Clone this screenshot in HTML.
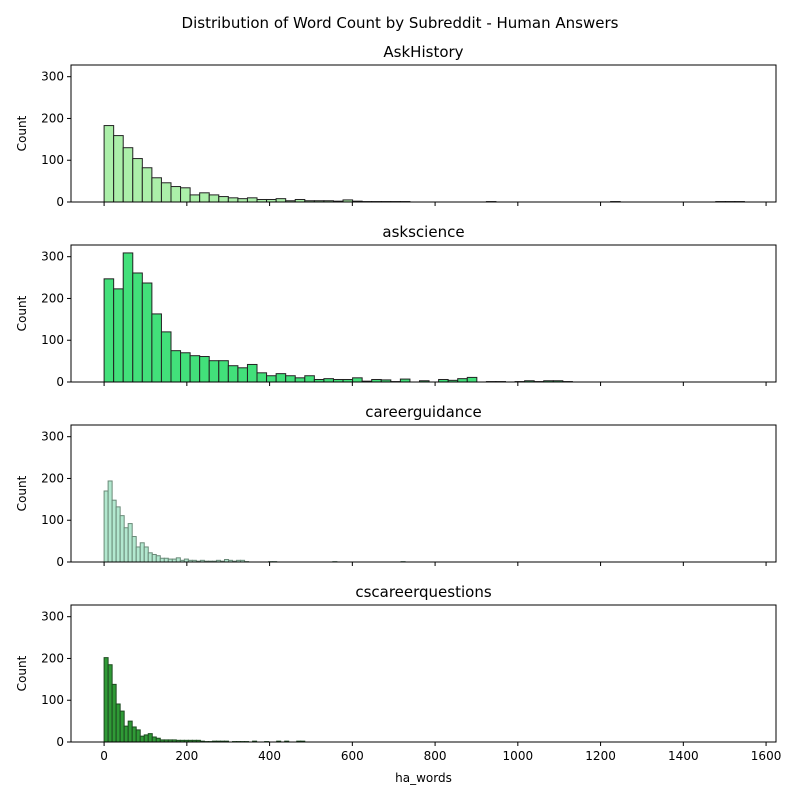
<!DOCTYPE html>
<html><head><meta charset="utf-8"><style>
body{margin:0;background:#fff}
svg text{font-family:"DejaVu Sans","Liberation Sans",sans-serif;fill:#000}
</style></head><body>
<svg id="chart" width="800" height="800" viewBox="0 0 800 800">
<rect width="800" height="800" fill="#fff"/>
<text x="400" y="28" font-size="15" text-anchor="middle">Distribution of Word Count by Subreddit - Human Answers</text>
</svg>
<script>
const subreddits = ["AskHistory","askscience","careerguidance","cscareerquestions"];
const binWidths = [23.1, 23.1, 9.7, 9.7];
const countsAskHistory = [183,159,130,104,82,58,46,37,34,17,22,17,13,10,8,10,6,6,8,3,6,3,3,3,2,5,2,1,1,1,1,1,0,0,0,0,0,0,0,0,1,0,0,0,0,0,0,0,0,0,0,0,0,1,0,0,0,0,0,0,0,0,0,0,1,1,1];
const countsAskscience = [247,223,309,261,237,163,120,75,70,63,61,51,51,39,34,42,22,15,20,15,10,15,6,8,6,6,10,2,6,5,1,7,0,3,0,6,4,8,11,0,1,1,0,1,3,1,3,3,1];
const countsCareerguidance = [170,194,148,132,111,82,92,61,36,46,36,22,18,15,9,9,7,7,10,4,7,4,4,2,4,2,2,2,4,2,6,4,2,4,4,1,0,0,0,0,0,1,1,0,0,0,0,0,0,0,0,0,0,0,0,0,0,1,0,0,0,0,0,0,0,0,0,0,0,0,0,0,0,0,1];
const countsCscareer = [202,185,138,91,74,38,50,36,29,14,17,20,12,9,5,5,5,5,4,4,4,4,4,4,2,1,1,2,2,2,2,0,1,1,1,1,0,2,0,0,1,0,0,2,0,2,0,0,2,2];
const allCounts = [countsAskHistory, countsAskscience, countsCareerguidance, countsCscareer];
const fills = ["#abefa9","#42e07a","#b2e8cf","#2f9a36"];
const edges = ["#222","#222","#6a8a78","#1d4a20"];
const yTicks = [0,100,200,300];
const xTicks = [0,200,400,600,800,1000,1200,1400,1600];
const panelTops = [65,245,425,605];

const NS="http://www.w3.org/2000/svg";
const svg=document.getElementById('chart');
const L=71,R=776,H=137,XMIN=-80,XMAX=1624,YMAX=328;
const xs=v=>L+(v-XMIN)/(XMAX-XMIN)*(R-L);
function mk(t,a,p){const e=document.createElementNS(NS,t);for(const k in a)e.setAttribute(k,a[k]);(p||svg).appendChild(e);return e;}

subreddits.forEach((name,pi)=>{
  const top=panelTops[pi],bot=top+H;
  const ys=v=>bot-v/YMAX*H;
  const g=mk('g',{});
  
  
  const t=mk('text',{x:(L+R)/2,y:top-8,'font-size':15,'text-anchor':'middle'},g);
  t.textContent=name;
  
  
  const bw=binWidths[pi];
  allCounts[pi].forEach((c,i)=>{
    if(c<=0)return;
    const x0=xs(i*bw),x1=xs((i+1)*bw);
    const r=mk('rect',{x:x0,y:ys(c),width:x1-x0,height:bot-ys(c),fill:fills[pi],stroke:edges[pi],'stroke-width':1},g);
    
    
  });
  const frame=mk('rect',{x:L,y:top,width:R-L,height:H,fill:'none',stroke:'#000','stroke-width':1},g);
  
  
  yTicks.forEach(v=>{
    mk('line',{x1:L-4,x2:L,y1:ys(v),y2:ys(v),stroke:'#000'},g);
    const tl=mk('text',{x:L-7,y:ys(v)+4,'font-size':12,'text-anchor':'end'},g);
    tl.textContent=v;
    
    
  });
  xTicks.forEach(v=>{
    mk('line',{x1:xs(v),x2:xs(v),y1:bot,y2:bot+4,stroke:'#000'},g);
    if(pi===3){
      const tl=mk('text',{x:xs(v),y:bot+18,'font-size':12,'text-anchor':'middle'},g);
      tl.textContent=v;
      
      
    }
  });
  const yl=mk('text',{x:0,y:0,'font-size':12,'text-anchor':'middle',transform:`translate(26,${top+H/2}) rotate(-90)`},g);
  yl.textContent='Count';
  
  
});
const xl=mk('text',{x:(L+R)/2,y:782,'font-size':12,'text-anchor':'middle'});
xl.textContent='ha_words';


</script>
</body></html>
